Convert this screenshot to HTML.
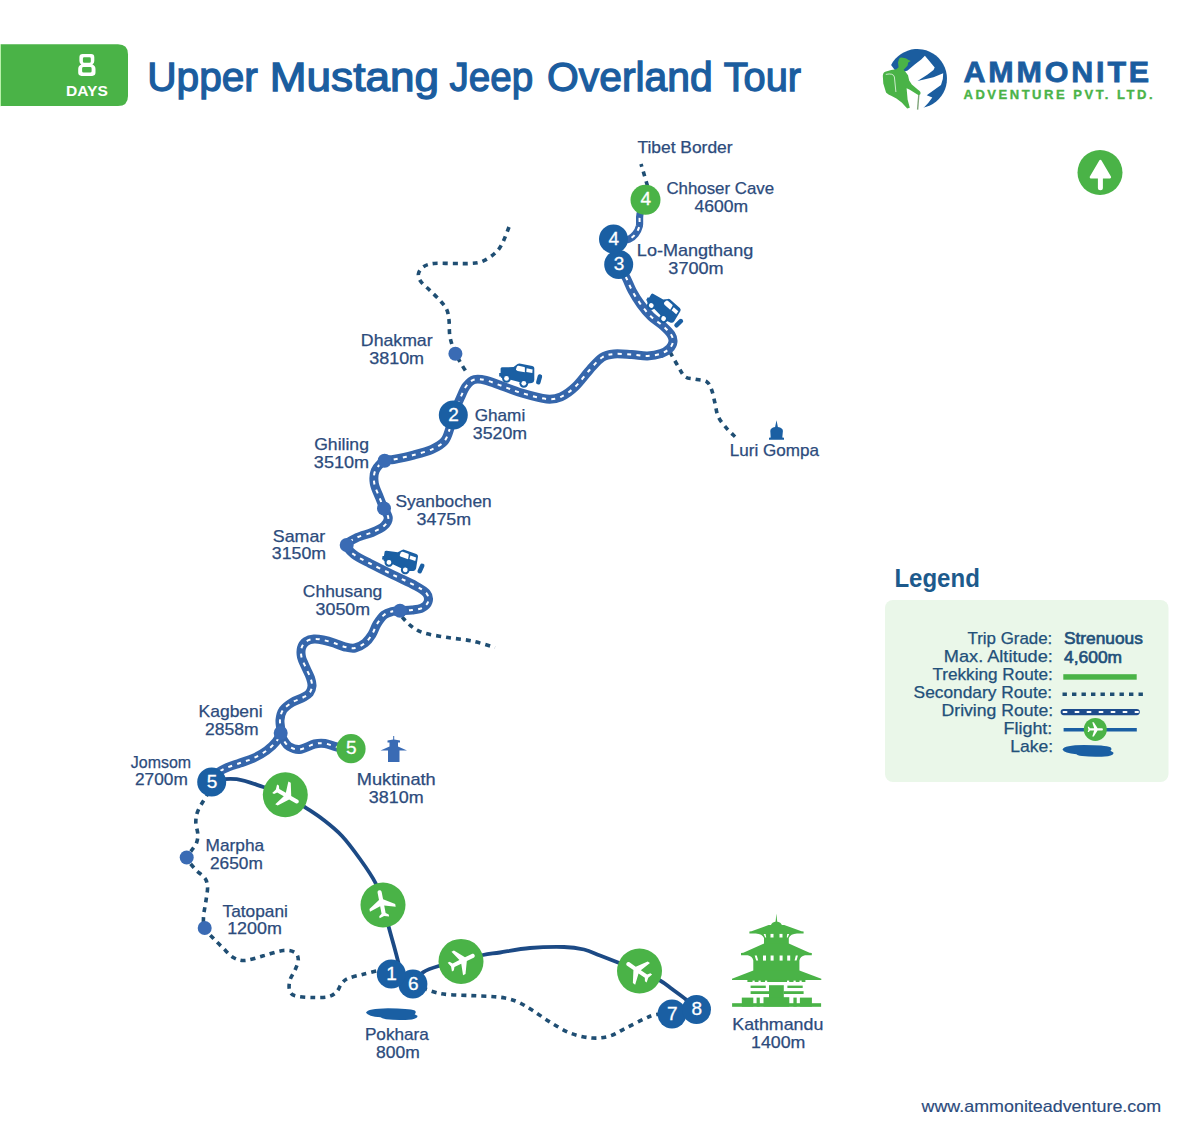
<!DOCTYPE html>
<html><head><meta charset="utf-8"><title>Upper Mustang Jeep Overland Tour</title>
<style>
html,body{margin:0;padding:0;background:#fff;}
body{width:1200px;height:1139px;overflow:hidden;}
svg{display:block;}
text{font-family:"Liberation Sans",sans-serif;}
.lb{font-size:15px;fill:#2c4b7c;stroke:#2c4b7c;stroke-width:0.2px;}
.num{font-size:19px;fill:#fff;stroke:#fff;stroke-width:0.3px;}
.hb{font-weight:bold;fill:#fff;}
.lg{font-size:15.5px;fill:#1b5d9f;stroke:#1b5d9f;stroke-width:0.2px;}
.lgb{font-size:15.5px;font-weight:bold;fill:#1b5d9f;}
.sec{fill:none;stroke:#1f4e73;stroke-width:3.6;stroke-dasharray:5 5;}
.fl{fill:none;stroke:#1c4a85;stroke-width:3.8;}
.road{fill:none;stroke:#3566ab;stroke-width:9;stroke-linecap:round;stroke-linejoin:round;}
.roadd{fill:none;stroke:#fff;stroke-width:2;stroke-dasharray:4 5.3;}
</style></head>
<body>
<svg width="1200" height="1139" viewBox="0 0 1200 1139">
<rect width="1200" height="1139" fill="#fff"/>
<rect x="0" y="44.2" width="1.2" height="62" fill="#b8f2aa"/>
<path d="M1,44.2 H118 Q128,44.2 128,54.2 V96 Q128,106 118,106 H1 Z" fill="#4ab347"/>
<path fill="#fff" fill-rule="evenodd" d="M82.6,53.9 H91.1 Q94.3,53.9 94.3,57.2 V61 Q94.3,63.4 92.4,64.5 Q95.5,65.6 95.5,68.9 V72.6 Q95.5,75.9 92.2,75.9 H81.5 Q78.2,75.9 78.2,72.6 V68.9 Q78.2,65.6 81.3,64.5 Q79.4,63.4 79.4,61 V57.2 Q79.4,53.9 82.6,53.9 Z M84.2,57.3 H89.5 Q90.8,57.3 90.8,58.6 V61.5 Q90.8,62.8 89.5,62.8 H84.2 Q82.9,62.8 82.9,61.5 V58.6 Q82.9,57.3 84.2,57.3 Z M83.5,67.1 H90.2 Q91.6,67.1 91.6,68.5 V71.2 Q91.6,72.6 90.2,72.6 H83.5 Q82.1,72.6 82.1,71.2 V68.5 Q82.1,67.1 83.5,67.1 Z"/>
<path d="M891.1,65 A29.6,29.6 0 1 1 922.8,107.7 Z" fill="#1b5d9f"/>
<path d="M895,75 L907.6,70.5 L915,64.3 L921.2,59.4 L924.9,55.7 L928.5,60 L934.7,67.4 L933.5,69.9 L927.3,74.8 L917.5,81 L933.5,77.3 L943.2,73.2 A25.8,25.8 0 0 1 941,85 L926.7,95.2 L932.3,97.6 Q929,103 922.5,108.9 L915,112 L880,112 L880,75 Z" fill="#fff"/>
<path d="M899.1,58.8 Q900,57.6 901.5,57.6 L905.5,58.3 Q907.5,58.8 908,59.8 L910.8,61 L908.2,62.4 L907.6,65.4 L905.6,67.8 L903.6,69.8 L905.6,72 L908,75.2 L909.2,80.5 L911.8,84.6 L918,89.8 Q921.2,91.8 920.4,94 Q919.6,95.6 917.4,94.4 L909.8,89.8 L906.6,88.2 L907.6,99.4 L909.8,107.8 L907.2,108.6 L901.7,102.6 L896.4,98.4 L891.2,95.8 Q886,93.5 885.8,91.8 L883.3,83.6 L882.8,75.8 Q883.2,72.3 885.2,71.8 L891.2,69.9 L896.4,69.3 L898.6,67.2 L898,62.5 Z" fill="#4ab347"/>
<path d="M885.8,74.4 Q893.4,72.8 894.4,77 L895.9,92" fill="none" stroke="#fff" stroke-width="0.9" opacity="0.8"/>
<path d="M918.8,95 L917.6,109.6" stroke="#7fa57a" stroke-width="1.4"/>
<text x="963.5" y="81.5" style="font:bold 30px 'Liberation Sans',sans-serif;fill:#1b5d9f;stroke:#1b5d9f;stroke-width:0.8px;letter-spacing:2.8px" textLength="188.5" lengthAdjust="spacingAndGlyphs">AMMONITE</text>
<text x="963.5" y="99" style="font:bold 13px 'Liberation Sans',sans-serif;fill:#4ab347;stroke:#4ab347;stroke-width:0.35px;letter-spacing:3px" textLength="192" lengthAdjust="spacing">ADVENTURE PVT. LTD.</text>
<circle cx="1100" cy="172.5" r="22.5" fill="#4ab347"/>
<path d="M1100.4,161.2 L1109.8,177.2 L1091,177.2 Z" fill="#fff" stroke="#fff" stroke-width="2.6" stroke-linejoin="round"/>
<rect x="1097.9" y="176" width="5" height="14.2" rx="2.5" fill="#fff"/>
<path d="M647.5,186.0 C646.9,184.0 645.1,177.7 644.0,174.0 C642.9,170.3 641.5,165.7 641.0,164.0" class="sec"/>
<path d="M509.0,227.0 C507.8,230.0 504.0,240.5 501.5,245.0 C499.0,249.5 497.2,251.2 494.0,254.0 C490.8,256.8 486.0,259.9 482.0,261.5 C478.0,263.1 474.5,263.2 470.0,263.5 C465.5,263.8 461.0,263.5 455.0,263.5 C449.0,263.5 439.2,263.0 434.0,263.5 C428.8,264.0 426.1,265.0 423.5,266.7 C420.9,268.4 419.0,271.1 418.5,273.5 C418.0,275.9 418.7,278.2 420.5,281.0 C422.3,283.8 426.2,286.8 429.5,290.0 C432.8,293.2 437.1,297.2 440.0,300.5 C442.9,303.8 445.2,306.2 446.7,309.5 C448.2,312.8 448.5,315.8 449.0,320.0 C449.5,324.2 449.1,330.5 449.7,335.0 C450.3,339.5 451.8,343.9 452.7,347.0 C453.6,350.1 454.0,350.9 455.4,353.7 C456.8,356.4 459.1,360.3 461.0,363.5 C462.9,366.7 466.0,371.4 467.0,373.0" class="sec"/>
<path d="M670.0,352.0 C671.4,354.4 675.8,362.6 678.3,366.7 C680.8,370.8 682.2,374.6 685.0,376.7 C687.8,378.8 691.4,378.4 695.0,379.2 C698.6,380.0 703.9,379.9 706.7,381.7 C709.5,383.5 710.3,386.4 711.7,390.0 C713.1,393.6 713.9,398.9 715.0,403.3 C716.1,407.8 716.3,412.5 718.3,416.7 C720.2,420.9 723.9,425.0 726.7,428.3 C729.5,431.6 733.6,435.3 735.0,436.7" class="sec"/>
<path d="M402.0,617.0 C403.5,618.5 407.3,623.3 411.0,626.0 C414.7,628.7 417.8,631.1 424.0,633.0 C430.2,634.9 440.0,636.2 448.0,637.5 C456.0,638.8 464.2,639.3 472.0,641.0 C479.8,642.7 491.2,646.4 495.0,647.5" class="sec"/>
<path d="M209.0,792.0 C207.2,795.0 200.5,805.0 198.3,810.0 C196.1,815.0 195.9,818.0 195.8,822.0 C195.7,826.0 197.7,830.5 197.8,834.0 C197.9,837.5 197.6,840.2 196.5,843.0 C195.4,845.8 193.1,848.1 191.5,850.5 C189.9,852.9 186.1,854.4 186.7,857.5 C187.3,860.6 191.9,865.5 195.0,869.0 C198.1,872.5 202.9,875.3 205.0,878.3 C207.1,881.3 207.2,883.9 207.5,887.0 C207.8,890.1 206.9,893.7 206.5,897.0 C206.1,900.3 205.5,903.4 205.0,906.7 C204.5,910.0 203.6,913.2 203.5,916.7 C203.4,920.2 203.1,924.4 204.7,928.0 C206.3,931.6 210.2,934.9 213.3,938.3 C216.4,941.7 220.0,945.1 223.3,948.3 C226.6,951.5 229.7,955.5 233.3,957.5 C236.9,959.5 240.0,960.8 245.0,960.5 C250.0,960.2 256.9,957.5 263.3,955.8 C269.7,954.1 278.0,951.0 283.3,950.5 C288.6,950.0 292.5,950.9 295.0,952.5 C297.5,954.1 298.3,957.1 298.3,960.0 C298.3,962.9 296.4,966.7 295.0,970.0 C293.6,973.3 290.9,976.7 290.0,980.0 C289.1,983.3 288.7,987.4 289.5,990.0 C290.3,992.6 291.0,994.5 295.0,995.8 C299.0,997.0 307.8,997.4 313.3,997.5 C318.9,997.6 324.4,997.7 328.3,996.7 C332.2,995.7 334.5,993.9 336.7,991.7 C338.9,989.5 339.8,985.5 341.7,983.3 C343.6,981.1 344.7,979.8 348.3,978.3 C351.9,976.8 358.0,975.6 363.3,974.2 C368.6,972.8 377.2,970.7 380.0,970.0" class="sec"/>
<path d="M413.0,984.0 C417.5,985.6 430.5,991.6 440.0,993.5 C449.5,995.4 461.7,995.0 470.0,995.5 C478.3,996.0 484.2,996.0 490.0,996.4 C495.8,996.8 500.3,997.1 505.0,998.0 C509.7,998.9 513.5,1000.0 518.0,1002.0 C522.5,1004.0 526.7,1006.7 532.0,1010.0 C537.3,1013.3 543.7,1018.2 550.0,1022.0 C556.3,1025.8 563.0,1030.3 570.0,1033.0 C577.0,1035.7 585.3,1037.5 592.0,1038.0 C598.7,1038.5 604.3,1037.7 610.0,1036.0 C615.7,1034.3 620.3,1030.8 626.0,1028.0 C631.7,1025.2 639.0,1021.2 644.0,1019.0 C649.0,1016.8 651.3,1015.3 656.0,1014.5 C660.7,1013.7 669.3,1014.1 672.0,1014.0" class="sec"/>
<path d="M211.7,780.0 C215.9,779.9 228.1,778.0 236.7,779.2 C245.3,780.4 255.2,784.4 263.3,787.0 C271.4,789.6 277.8,791.5 285.0,795.0 C292.2,798.5 300.4,804.2 306.7,808.3 C313.0,812.4 317.1,814.9 323.0,819.5 C328.9,824.1 335.8,829.4 342.0,836.0 C348.2,842.6 354.4,851.2 360.0,859.0 C365.6,866.8 371.7,875.3 375.5,883.0 C379.3,890.7 380.8,897.5 383.0,905.0 C385.2,912.5 387.2,921.2 389.0,928.0 C390.8,934.8 392.3,939.8 394.0,946.0 C395.7,952.2 398.2,961.8 399.0,965.0" class="fl"/>
<path d="M412.9,984.0 C414.6,982.1 418.7,975.4 423.0,972.4 C427.3,969.4 432.5,967.8 438.8,966.0 C445.1,964.2 453.6,963.2 461.0,961.4 C468.4,959.6 476.5,956.5 483.0,955.0 C489.5,953.5 492.2,953.7 500.0,952.5 C507.8,951.3 519.3,948.9 530.0,948.0 C540.7,947.1 555.0,946.8 564.0,947.0 C573.0,947.2 578.0,948.1 584.0,949.5 C590.0,950.9 594.3,953.3 600.0,955.5 C605.7,957.7 611.4,959.9 618.0,962.5 C624.6,965.1 632.5,968.0 639.5,971.0 C646.5,974.0 654.6,977.5 660.0,980.5 C665.4,983.5 667.7,985.8 672.0,989.0 C676.3,992.2 681.9,996.1 686.0,999.5 C690.1,1002.9 694.8,1007.8 696.5,1009.5" class="fl"/>
<path d="M212.0,776.0 C214.2,774.8 220.3,770.7 225.0,768.5 C229.7,766.3 235.3,764.7 240.0,763.0 C244.7,761.3 248.9,760.4 253.3,758.3 C257.8,756.2 262.9,753.3 266.7,750.5 C270.5,747.7 273.7,744.6 276.0,741.7 C278.3,738.8 280.0,736.6 280.7,733.0 C281.4,729.4 279.6,723.8 280.0,720.0 C280.4,716.2 281.0,712.9 283.0,710.0 C285.0,707.1 288.7,704.6 292.0,702.5 C295.3,700.4 300.1,699.1 303.0,697.5 C305.9,695.9 308.0,694.9 309.5,693.0 C311.0,691.1 311.8,688.5 312.0,686.0 C312.2,683.5 311.5,681.0 310.5,678.0 C309.5,675.0 307.5,671.5 306.0,668.0 C304.5,664.5 302.2,660.3 301.5,657.0 C300.8,653.7 300.8,650.6 301.5,648.0 C302.2,645.4 303.9,643.0 306.0,641.5 C308.1,640.0 311.2,639.2 314.0,639.0 C316.8,638.8 319.7,639.3 323.0,640.0 C326.3,640.7 330.3,641.8 334.0,643.0 C337.7,644.2 341.5,646.2 345.0,647.0 C348.5,647.8 351.7,648.7 355.0,648.0 C358.3,647.3 362.2,645.2 365.0,643.0 C367.8,640.8 370.0,637.7 372.0,634.5 C374.0,631.3 375.0,627.2 377.0,624.0 C379.0,620.8 381.5,617.1 384.0,615.0 C386.5,612.9 389.3,612.2 392.0,611.5 C394.7,610.8 396.7,611.0 400.0,610.8 C403.3,610.5 408.3,610.5 412.0,610.0 C415.7,609.5 419.3,609.3 422.0,608.0 C424.7,606.7 427.2,604.5 428.0,602.0 C428.8,599.5 428.7,596.0 426.5,593.3 C424.3,590.5 420.5,588.5 415.0,585.5 C409.5,582.5 400.8,578.7 393.3,575.0 C385.8,571.3 376.6,566.9 370.0,563.5 C363.4,560.1 357.9,557.6 354.0,554.5 C350.1,551.4 346.2,547.8 346.7,545.0 C347.2,542.2 352.8,539.6 357.0,537.5 C361.2,535.4 367.5,534.4 372.0,532.5 C376.5,530.6 381.3,528.4 384.0,526.0 C386.7,523.6 388.3,520.9 388.3,518.0 C388.3,515.1 385.5,511.9 384.0,508.5 C382.5,505.1 381.1,501.7 379.5,497.5 C377.9,493.3 375.0,488.0 374.3,483.5 C373.6,479.0 373.6,474.3 375.3,470.5 C377.0,466.7 381.6,462.6 384.6,460.8 C387.6,459.0 388.9,460.4 393.5,459.5 C398.1,458.6 406.1,457.0 412.5,455.3 C418.9,453.6 426.7,451.7 432.0,449.3 C437.3,446.9 441.5,444.6 444.5,441.0 C447.5,437.4 448.5,432.3 450.0,428.0 C451.5,423.7 451.6,420.0 453.3,415.0 C455.0,410.0 458.1,402.8 460.3,398.0 C462.5,393.2 463.9,389.1 466.3,386.0 C468.7,382.9 471.2,380.4 474.5,379.5 C477.8,378.6 481.4,379.2 486.0,380.3 C490.6,381.4 496.1,383.9 502.0,386.0 C507.9,388.1 514.2,390.8 521.7,393.0 C529.2,395.2 540.2,398.4 546.7,399.0 C553.2,399.6 556.2,398.9 561.0,396.8 C565.8,394.7 570.7,391.1 575.5,386.5 C580.3,381.9 585.6,374.3 590.0,369.5 C594.4,364.7 598.0,360.1 602.0,357.5 C606.0,354.9 609.1,354.5 614.0,354.0 C618.9,353.5 626.0,354.3 631.6,354.6 C637.2,354.9 642.5,356.2 647.4,356.0 C652.3,355.8 657.3,354.9 661.0,353.6 C664.7,352.4 667.5,350.5 669.5,348.5 C671.5,346.5 672.8,343.8 673.0,341.5 C673.2,339.2 672.7,337.1 671.0,334.5 C669.3,331.9 666.3,329.0 663.0,326.0 C659.7,323.0 654.7,320.1 651.0,316.5 C647.3,312.9 643.9,308.8 640.8,304.5 C637.7,300.2 634.6,295.2 632.2,290.8 C629.8,286.4 628.5,282.4 626.3,278.0 C624.0,273.6 620.0,266.8 618.7,264.5" class="road"/>
<path d="M613.5,239.0 C614.9,239.1 619.4,239.8 622.0,239.8 C624.6,239.9 626.8,240.3 629.0,239.3 C631.2,238.3 633.8,236.2 635.5,234.0 C637.2,231.8 638.6,229.3 639.4,226.0 C640.1,222.7 639.0,218.4 640.0,214.0 C641.0,209.6 644.6,202.2 645.5,199.8" class="road" style="stroke-width:7.2"/>
<path d="M280.7,733.0 C281.2,734.2 282.1,737.8 283.5,740.0 C284.9,742.2 286.3,744.9 289.0,746.5 C291.7,748.1 295.2,749.9 299.5,749.5 C303.8,749.1 310.2,745.0 314.5,744.0 C318.8,743.0 321.2,743.0 325.0,743.5 C328.8,744.0 332.7,746.1 337.0,747.0 C341.3,747.9 348.7,748.4 351.0,748.7" class="road"/>
<path d="M212.0,776.0 C214.2,774.8 220.3,770.7 225.0,768.5 C229.7,766.3 235.3,764.7 240.0,763.0 C244.7,761.3 248.9,760.4 253.3,758.3 C257.8,756.2 262.9,753.3 266.7,750.5 C270.5,747.7 273.7,744.6 276.0,741.7 C278.3,738.8 280.0,736.6 280.7,733.0 C281.4,729.4 279.6,723.8 280.0,720.0 C280.4,716.2 281.0,712.9 283.0,710.0 C285.0,707.1 288.7,704.6 292.0,702.5 C295.3,700.4 300.1,699.1 303.0,697.5 C305.9,695.9 308.0,694.9 309.5,693.0 C311.0,691.1 311.8,688.5 312.0,686.0 C312.2,683.5 311.5,681.0 310.5,678.0 C309.5,675.0 307.5,671.5 306.0,668.0 C304.5,664.5 302.2,660.3 301.5,657.0 C300.8,653.7 300.8,650.6 301.5,648.0 C302.2,645.4 303.9,643.0 306.0,641.5 C308.1,640.0 311.2,639.2 314.0,639.0 C316.8,638.8 319.7,639.3 323.0,640.0 C326.3,640.7 330.3,641.8 334.0,643.0 C337.7,644.2 341.5,646.2 345.0,647.0 C348.5,647.8 351.7,648.7 355.0,648.0 C358.3,647.3 362.2,645.2 365.0,643.0 C367.8,640.8 370.0,637.7 372.0,634.5 C374.0,631.3 375.0,627.2 377.0,624.0 C379.0,620.8 381.5,617.1 384.0,615.0 C386.5,612.9 389.3,612.2 392.0,611.5 C394.7,610.8 396.7,611.0 400.0,610.8 C403.3,610.5 408.3,610.5 412.0,610.0 C415.7,609.5 419.3,609.3 422.0,608.0 C424.7,606.7 427.2,604.5 428.0,602.0 C428.8,599.5 428.7,596.0 426.5,593.3 C424.3,590.5 420.5,588.5 415.0,585.5 C409.5,582.5 400.8,578.7 393.3,575.0 C385.8,571.3 376.6,566.9 370.0,563.5 C363.4,560.1 357.9,557.6 354.0,554.5 C350.1,551.4 346.2,547.8 346.7,545.0 C347.2,542.2 352.8,539.6 357.0,537.5 C361.2,535.4 367.5,534.4 372.0,532.5 C376.5,530.6 381.3,528.4 384.0,526.0 C386.7,523.6 388.3,520.9 388.3,518.0 C388.3,515.1 385.5,511.9 384.0,508.5 C382.5,505.1 381.1,501.7 379.5,497.5 C377.9,493.3 375.0,488.0 374.3,483.5 C373.6,479.0 373.6,474.3 375.3,470.5 C377.0,466.7 381.6,462.6 384.6,460.8 C387.6,459.0 388.9,460.4 393.5,459.5 C398.1,458.6 406.1,457.0 412.5,455.3 C418.9,453.6 426.7,451.7 432.0,449.3 C437.3,446.9 441.5,444.6 444.5,441.0 C447.5,437.4 448.5,432.3 450.0,428.0 C451.5,423.7 451.6,420.0 453.3,415.0 C455.0,410.0 458.1,402.8 460.3,398.0 C462.5,393.2 463.9,389.1 466.3,386.0 C468.7,382.9 471.2,380.4 474.5,379.5 C477.8,378.6 481.4,379.2 486.0,380.3 C490.6,381.4 496.1,383.9 502.0,386.0 C507.9,388.1 514.2,390.8 521.7,393.0 C529.2,395.2 540.2,398.4 546.7,399.0 C553.2,399.6 556.2,398.9 561.0,396.8 C565.8,394.7 570.7,391.1 575.5,386.5 C580.3,381.9 585.6,374.3 590.0,369.5 C594.4,364.7 598.0,360.1 602.0,357.5 C606.0,354.9 609.1,354.5 614.0,354.0 C618.9,353.5 626.0,354.3 631.6,354.6 C637.2,354.9 642.5,356.2 647.4,356.0 C652.3,355.8 657.3,354.9 661.0,353.6 C664.7,352.4 667.5,350.5 669.5,348.5 C671.5,346.5 672.8,343.8 673.0,341.5 C673.2,339.2 672.7,337.1 671.0,334.5 C669.3,331.9 666.3,329.0 663.0,326.0 C659.7,323.0 654.7,320.1 651.0,316.5 C647.3,312.9 643.9,308.8 640.8,304.5 C637.7,300.2 634.6,295.2 632.2,290.8 C629.8,286.4 628.5,282.4 626.3,278.0 C624.0,273.6 620.0,266.8 618.7,264.5" class="roadd"/>
<path d="M613.5,239.0 C614.9,239.1 619.4,239.8 622.0,239.8 C624.6,239.9 626.8,240.3 629.0,239.3 C631.2,238.3 633.8,236.2 635.5,234.0 C637.2,231.8 638.6,229.3 639.4,226.0 C640.1,222.7 639.0,218.4 640.0,214.0 C641.0,209.6 644.6,202.2 645.5,199.8" class="roadd"/>
<path d="M280.7,733.0 C281.2,734.2 282.1,737.8 283.5,740.0 C284.9,742.2 286.3,744.9 289.0,746.5 C291.7,748.1 295.2,749.9 299.5,749.5 C303.8,749.1 310.2,745.0 314.5,744.0 C318.8,743.0 321.2,743.0 325.0,743.5 C328.8,744.0 332.7,746.1 337.0,747.0 C341.3,747.9 348.7,748.4 351.0,748.7" class="roadd"/>
<circle cx="455.4" cy="353.7" r="7" fill="#3a6bb4"/>
<circle cx="384.6" cy="460.8" r="7" fill="#3a6bb4"/>
<circle cx="384.0" cy="508.5" r="7" fill="#3a6bb4"/>
<circle cx="346.7" cy="545.0" r="7" fill="#3a6bb4"/>
<circle cx="400.0" cy="610.8" r="7" fill="#3a6bb4"/>
<circle cx="280.7" cy="733.0" r="7" fill="#3a6bb4"/>
<circle cx="186.7" cy="857.5" r="7" fill="#3a6bb4"/>
<circle cx="204.7" cy="928.0" r="7" fill="#3a6bb4"/>
<g transform="translate(665.2 310.5) rotate(31.0) scale(1.00)" fill="#1a5fa3"><path d="M-20.4,-7.1 Q-20,-8.2 -18.6,-8.2 L-7.4,-8.4 L-3.5,-11.4 Q-2.6,-12.2 -1.4,-12.1 L11.3,-9.6 Q13.2,-9.2 13.3,-7.4 L13.3,4.5 Q13.1,7.2 11,7.6 L6.9,8.1 L-0.9,6.8 L-10.4,4.2 L-19.2,2.4 Q-20.4,2.1 -20.4,0.9 L-21.8,1 L-21.8,-2.4 L-20.4,-2.6 Z"/><path d="M-5,-6.2 L-4.2,-8.8 Q-3.6,-9.9 -2.4,-9.7 L3.2,-8.6 Q3.9,-8.4 3.9,-7.6 L3.9,-3.2 L-3.3,-4.5 Q-4.9,-4.9 -5,-6.2 Z" fill="#fff"/><path d="M5.6,-7.3 L11.6,-6.1 L11.3,-2.5 L5.3,-3.6 Z" fill="#fff"/><circle cx="-14.5" cy="2.9" r="4.4"/><circle cx="-14.5" cy="2.9" r="2.4" fill="#fff"/><circle cx="2.8" cy="7.8" r="4.4"/><circle cx="2.8" cy="7.8" r="2.4" fill="#fff"/><rect x="-2.25" y="-5.2" width="4.5" height="10.4" rx="2" transform="translate(18.1 3.9) rotate(15)"/></g>
<g transform="translate(521.0 375.5) rotate(0.0) scale(1.00)" fill="#1a5fa3"><path d="M-20.4,-7.1 Q-20,-8.2 -18.6,-8.2 L-7.4,-8.4 L-3.5,-11.4 Q-2.6,-12.2 -1.4,-12.1 L11.3,-9.6 Q13.2,-9.2 13.3,-7.4 L13.3,4.5 Q13.1,7.2 11,7.6 L6.9,8.1 L-0.9,6.8 L-10.4,4.2 L-19.2,2.4 Q-20.4,2.1 -20.4,0.9 L-21.8,1 L-21.8,-2.4 L-20.4,-2.6 Z"/><path d="M-5,-6.2 L-4.2,-8.8 Q-3.6,-9.9 -2.4,-9.7 L3.2,-8.6 Q3.9,-8.4 3.9,-7.6 L3.9,-3.2 L-3.3,-4.5 Q-4.9,-4.9 -5,-6.2 Z" fill="#fff"/><path d="M5.6,-7.3 L11.6,-6.1 L11.3,-2.5 L5.3,-3.6 Z" fill="#fff"/><circle cx="-14.5" cy="2.9" r="4.4"/><circle cx="-14.5" cy="2.9" r="2.4" fill="#fff"/><circle cx="2.8" cy="7.8" r="4.4"/><circle cx="2.8" cy="7.8" r="2.4" fill="#fff"/><rect x="-2.25" y="-5.2" width="4.5" height="10.4" rx="2" transform="translate(18.1 3.9) rotate(15)"/></g>
<g transform="translate(403.7 561.8) rotate(9.0) scale(1.00)" fill="#1a5fa3"><path d="M-20.4,-7.1 Q-20,-8.2 -18.6,-8.2 L-7.4,-8.4 L-3.5,-11.4 Q-2.6,-12.2 -1.4,-12.1 L11.3,-9.6 Q13.2,-9.2 13.3,-7.4 L13.3,4.5 Q13.1,7.2 11,7.6 L6.9,8.1 L-0.9,6.8 L-10.4,4.2 L-19.2,2.4 Q-20.4,2.1 -20.4,0.9 L-21.8,1 L-21.8,-2.4 L-20.4,-2.6 Z"/><path d="M-5,-6.2 L-4.2,-8.8 Q-3.6,-9.9 -2.4,-9.7 L3.2,-8.6 Q3.9,-8.4 3.9,-7.6 L3.9,-3.2 L-3.3,-4.5 Q-4.9,-4.9 -5,-6.2 Z" fill="#fff"/><path d="M5.6,-7.3 L11.6,-6.1 L11.3,-2.5 L5.3,-3.6 Z" fill="#fff"/><circle cx="-14.5" cy="2.9" r="4.4"/><circle cx="-14.5" cy="2.9" r="2.4" fill="#fff"/><circle cx="2.8" cy="7.8" r="4.4"/><circle cx="2.8" cy="7.8" r="2.4" fill="#fff"/><rect x="-2.25" y="-5.2" width="4.5" height="10.4" rx="2" transform="translate(18.1 3.9) rotate(15)"/></g>
<circle cx="285.3" cy="794.8" r="22.5" fill="#4ab347"/><path d="M21 16v-2l-8-5V3.5c0-.83-.67-1.5-1.5-1.5S10 2.67 10 3.5V9l-8 5v2l8-2.5V19l-2 1.5V22l3.5-1 3.5 1v-1.5L13 19v-5.5l8 2.5z" fill="#fff" transform="translate(286.6 795.6) rotate(120.0) scale(1.38) translate(-11.5 -12)"/>
<circle cx="383.0" cy="905.0" r="22.5" fill="#4ab347"/><path d="M21 16v-2l-8-5V3.5c0-.83-.67-1.5-1.5-1.5S10 2.67 10 3.5V9l-8 5v2l8-2.5V19l-2 1.5V22l3.5-1 3.5 1v-1.5L13 19v-5.5l8 2.5z" fill="#fff" transform="translate(381.8 903.8) rotate(-10.7) scale(1.38) translate(-11.5 -12)"/>
<circle cx="461.0" cy="961.4" r="22.5" fill="#4ab347"/><path d="M21 16v-2l-8-5V3.5c0-.83-.67-1.5-1.5-1.5S10 2.67 10 3.5V9l-8 5v2l8-2.5V19l-2 1.5V22l3.5-1 3.5 1v-1.5L13 19v-5.5l8 2.5z" fill="#fff" transform="translate(462.2 961.0) rotate(63.8) scale(1.38) translate(-11.5 -12)"/>
<circle cx="639.5" cy="971.0" r="22.5" fill="#4ab347"/><path d="M21 16v-2l-8-5V3.5c0-.83-.67-1.5-1.5-1.5S10 2.67 10 3.5V9l-8 5v2l8-2.5V19l-2 1.5V22l3.5-1 3.5 1v-1.5L13 19v-5.5l8 2.5z" fill="#fff" transform="translate(638.0 970.7) rotate(-55.6) scale(1.38) translate(-11.5 -12)"/>
<circle cx="645.5" cy="199.8" r="15.0" fill="#4ab347"/><text x="645.8" y="205.4" class="num" text-anchor="middle">4</text>
<circle cx="618.7" cy="264.5" r="14.5" fill="#1a5fa3"/><text x="619.0" y="270.1" class="num" text-anchor="middle">3</text>
<circle cx="613.5" cy="239.0" r="14.5" fill="#1a5fa3"/><text x="613.8" y="244.6" class="num" text-anchor="middle">4</text>
<circle cx="453.3" cy="415.0" r="14.5" fill="#1a5fa3"/><text x="453.6" y="420.6" class="num" text-anchor="middle">2</text>
<circle cx="211.7" cy="782.0" r="14.5" fill="#1a5fa3"/><text x="212.0" y="787.6" class="num" text-anchor="middle">5</text>
<circle cx="351.0" cy="748.7" r="14.6" fill="#4ab347"/><text x="351.3" y="754.3" class="num" text-anchor="middle">5</text>
<circle cx="412.9" cy="984.0" r="14.5" fill="#1a5fa3"/><text x="413.2" y="989.6" class="num" text-anchor="middle">6</text>
<circle cx="391.3" cy="974.0" r="14.5" fill="#1a5fa3"/><text x="391.6" y="979.6" class="num" text-anchor="middle">1</text>
<circle cx="672.0" cy="1014.0" r="14.5" fill="#1a5fa3"/><text x="672.3" y="1019.6" class="num" text-anchor="middle">7</text>
<circle cx="696.5" cy="1009.5" r="14.5" fill="#1a5fa3"/><text x="696.8" y="1015.1" class="num" text-anchor="middle">8</text>
<path d="M366,1012.7 Q367.5,1008.6 388,1008.3 Q409,1008.4 414.8,1010.6 Q416.8,1012.4 414.6,1014.2 L417.4,1015.8 Q418.2,1018.4 412,1019.4 Q398,1020.6 386,1019.2 Q381.5,1018.4 380.5,1017.3 Q368,1016.2 366,1012.7 Z" fill="#1a5fa3"/>
<path d="M393.2,736 L394.2,736 L394.2,739.5 L400,740.5 L400,742.5 L398,742.5 L398,746.5 L407,750.5 L399.5,750.5 L399.5,762 L388,762 L388,750.5 L380.5,750.5 L389.5,746.5 L389.5,742.5 L387.5,742.5 L387.5,740.5 L393.2,739.5 Z" fill="#3a6bb4"/>
<path d="M776.5,420.3 L777.9,427 Q782.9,427.8 782.9,431 L782.3,437.6 L784,437.8 L784,439.8 L769,439.8 L769,437.8 L770.7,437.6 L770.3,431 Q770.3,427.8 775.1,427 Z" fill="#1a5fa3"/>
<g fill="#4ab347">
<path d="M775.5,922.5 L776.4,913.5 L777.3,922.5 Z"/>
<path d="M770.8,925.4 Q771.6,922.4 776.4,921.6 Q781.2,922.4 782,925.4 Z"/>
<path d="M768.6,925 L784.2,925 L801.5,931.2 L803.6,931.4 L803.6,933.6 L797,933.6 Q790.5,934 788.8,938 L788.8,944.2 L764,944.2 L764,938 Q762.3,934 755.8,933.6 L749.4,933.6 L749.4,931.4 L751.5,931.2 Z"/>
<path d="M764,943.6 L788.8,943.6 L809.5,952.8 L811.8,953 L811.8,955.3 L805,955.3 Q800.3,956.2 799.4,960.5 L799.4,971.4 L753.3,971.4 L753.3,960.5 Q752.4,956.2 747.7,955.3 L741,955.3 L741,953 L743.3,952.8 Z"/>
<path d="M753.3,970.4 L799.4,970.4 L821.3,978.8 L821.3,980 L732,980 L732,978.8 Z"/>
<rect x="747.4" y="979.5" width="58" height="2.5"/>
<rect x="750.6" y="985.6" width="15.2" height="2.4"/><rect x="750.6" y="991.2" width="19" height="2.8"/>
<rect x="787.4" y="985.6" width="15.3" height="2.4"/><rect x="783.5" y="991.2" width="20.1" height="2.8"/>
<rect x="769" y="985.2" width="14.8" height="13"/><rect x="763.5" y="997.2" width="25.8" height="9.4"/>
<rect x="741.8" y="997.6" width="11.5" height="9"/><rect x="756.6" y="997.6" width="3.2" height="9"/>
<rect x="793.4" y="997.6" width="3.3" height="9"/><rect x="799.9" y="997.6" width="12" height="9"/>
<rect x="732.1" y="1003.2" width="89" height="3.6"/>
</g>
<g fill="#fff">
<path d="M763.6,933.9 L765.6,933.9 L766.2,937.4 L765.2,937.4 Z"/><rect x="770.5" y="933.9" width="3" height="3.6"/><rect x="779.5" y="933.9" width="3" height="3.6"/><path d="M787.2,933.9 L789.2,933.9 L787.8,937.4 L786.8,937.4 Z"/>
<path d="M754.7,955.5 L756.8,955.5 L758.2,960.6 L756.2,960.6 Z"/>
<rect x="763.0" y="955.5" width="3" height="5.1"/>
<rect x="770.6" y="955.5" width="3" height="5.1"/>
<rect x="779.6" y="955.5" width="3" height="5.1"/>
<rect x="787.2" y="955.5" width="3" height="5.1"/>
<path d="M795.8,955.5 L797.9,955.5 L796.6,960.6 L794.6,960.6 Z"/>
<rect x="752.5" y="980.6" width="2.2" height="1.5"/>
<rect x="758.5" y="980.6" width="2.2" height="1.5"/>
<rect x="765.0" y="980.6" width="2.2" height="1.5"/>
<rect x="787.0" y="980.6" width="2.2" height="1.5"/>
<rect x="793.5" y="980.6" width="2.2" height="1.5"/>
<rect x="799.5" y="980.6" width="2.2" height="1.5"/>
</g>
<rect x="885" y="600" width="283.5" height="182" rx="8" fill="#eaf7e9"/>
<rect x="1063.3" y="674.2" width="73.4" height="5.5" fill="#4ab347"/>
<path d="M1062.5,694.2 H1143.3" stroke="#1f4e73" stroke-width="3.4" stroke-dasharray="4.4 5.1"/>
<rect x="1060.6" y="709" width="79.2" height="6.2" rx="3.1" fill="#1d4b8c"/>
<path d="M1063.5,712.1 H1138" stroke="#fff" stroke-width="2" stroke-dasharray="3 9" stroke-linecap="round"/>
<path d="M1063.6,729.8 H1136.8" stroke="#1a5fa3" stroke-width="3.4"/>
<circle cx="1095.3" cy="729.4" r="11.5" fill="#4ab347"/><path d="M21 16v-2l-8-5V3.5c0-.83-.67-1.5-1.5-1.5S10 2.67 10 3.5V9l-8 5v2l8-2.5V19l-2 1.5V22l3.5-1 3.5 1v-1.5L13 19v-5.5l8 2.5z" fill="#fff" transform="translate(1095.3 729.4) rotate(90.0) scale(0.76) translate(-11.5 -12)"/>
<path d="M1062.5,749.5 Q1064,745.2 1084,745 Q1105,745.1 1110.5,747.2 Q1112.5,749 1110.4,750.8 L1113.4,752.5 Q1114.2,755.2 1108,756.2 Q1094,757.3 1082,756 Q1077,755.2 1076.5,754.2 Q1064,753.2 1062.5,749.5 Z" fill="#1a5fa3"/>
<text x="637.50" y="152.50" style="font-size:15.7px;font-family:'Liberation Sans',sans-serif;fill:#2c4b7c;stroke:#2c4b7c;stroke-width:0.25px" textLength="95.02" lengthAdjust="spacingAndGlyphs">Tibet Border</text>
<text x="666.43" y="194.00" style="font-size:15.7px;font-family:'Liberation Sans',sans-serif;fill:#2c4b7c;stroke:#2c4b7c;stroke-width:0.25px" textLength="107.68" lengthAdjust="spacingAndGlyphs">Chhoser Cave</text>
<text x="694.50" y="212.00" style="font-size:15.7px;font-family:'Liberation Sans',sans-serif;fill:#2c4b7c;stroke:#2c4b7c;stroke-width:0.25px" textLength="53.58" lengthAdjust="spacingAndGlyphs">4600m</text>
<text x="636.85" y="255.80" style="font-size:15.7px;font-family:'Liberation Sans',sans-serif;fill:#2c4b7c;stroke:#2c4b7c;stroke-width:0.25px" textLength="116.37" lengthAdjust="spacingAndGlyphs">Lo-Mangthang</text>
<text x="668.35" y="274.00" style="font-size:15.7px;font-family:'Liberation Sans',sans-serif;fill:#2c4b7c;stroke:#2c4b7c;stroke-width:0.25px" textLength="55.27" lengthAdjust="spacingAndGlyphs">3700m</text>
<text x="360.87" y="346.00" style="font-size:15.7px;font-family:'Liberation Sans',sans-serif;fill:#2c4b7c;stroke:#2c4b7c;stroke-width:0.25px" textLength="71.72" lengthAdjust="spacingAndGlyphs">Dhakmar</text>
<text x="369.15" y="364.30" style="font-size:15.7px;font-family:'Liberation Sans',sans-serif;fill:#2c4b7c;stroke:#2c4b7c;stroke-width:0.25px" textLength="54.96" lengthAdjust="spacingAndGlyphs">3810m</text>
<text x="474.71" y="420.50" style="font-size:15.7px;font-family:'Liberation Sans',sans-serif;fill:#2c4b7c;stroke:#2c4b7c;stroke-width:0.25px" textLength="50.53" lengthAdjust="spacingAndGlyphs">Ghami</text>
<text x="472.87" y="438.50" style="font-size:15.7px;font-family:'Liberation Sans',sans-serif;fill:#2c4b7c;stroke:#2c4b7c;stroke-width:0.25px" textLength="54.23" lengthAdjust="spacingAndGlyphs">3520m</text>
<text x="314.18" y="449.80" style="font-size:15.7px;font-family:'Liberation Sans',sans-serif;fill:#2c4b7c;stroke:#2c4b7c;stroke-width:0.25px" textLength="54.77" lengthAdjust="spacingAndGlyphs">Ghiling</text>
<text x="313.85" y="468.00" style="font-size:15.7px;font-family:'Liberation Sans',sans-serif;fill:#2c4b7c;stroke:#2c4b7c;stroke-width:0.25px" textLength="55.27" lengthAdjust="spacingAndGlyphs">3510m</text>
<text x="395.40" y="507.00" style="font-size:15.7px;font-family:'Liberation Sans',sans-serif;fill:#2c4b7c;stroke:#2c4b7c;stroke-width:0.25px" textLength="96.36" lengthAdjust="spacingAndGlyphs">Syanbochen</text>
<text x="416.56" y="525.00" style="font-size:15.7px;font-family:'Liberation Sans',sans-serif;fill:#2c4b7c;stroke:#2c4b7c;stroke-width:0.25px" textLength="54.54" lengthAdjust="spacingAndGlyphs">3475m</text>
<text x="272.87" y="541.70" style="font-size:15.7px;font-family:'Liberation Sans',sans-serif;fill:#2c4b7c;stroke:#2c4b7c;stroke-width:0.25px" textLength="52.38" lengthAdjust="spacingAndGlyphs">Samar</text>
<text x="271.87" y="559.20" style="font-size:15.7px;font-family:'Liberation Sans',sans-serif;fill:#2c4b7c;stroke:#2c4b7c;stroke-width:0.25px" textLength="54.23" lengthAdjust="spacingAndGlyphs">3150m</text>
<text x="302.89" y="596.70" style="font-size:15.7px;font-family:'Liberation Sans',sans-serif;fill:#2c4b7c;stroke:#2c4b7c;stroke-width:0.25px" textLength="79.40" lengthAdjust="spacingAndGlyphs">Chhusang</text>
<text x="315.56" y="615.00" style="font-size:15.7px;font-family:'Liberation Sans',sans-serif;fill:#2c4b7c;stroke:#2c4b7c;stroke-width:0.25px" textLength="54.54" lengthAdjust="spacingAndGlyphs">3050m</text>
<text x="198.59" y="717.20" style="font-size:15.7px;font-family:'Liberation Sans',sans-serif;fill:#2c4b7c;stroke:#2c4b7c;stroke-width:0.25px" textLength="64.06" lengthAdjust="spacingAndGlyphs">Kagbeni</text>
<text x="205.00" y="735.20" style="font-size:15.7px;font-family:'Liberation Sans',sans-serif;fill:#2c4b7c;stroke:#2c4b7c;stroke-width:0.25px" textLength="53.58" lengthAdjust="spacingAndGlyphs">2858m</text>
<text x="130.80" y="767.50" style="font-size:15.7px;font-family:'Liberation Sans',sans-serif;fill:#2c4b7c;stroke:#2c4b7c;stroke-width:0.25px" textLength="60.29" lengthAdjust="spacingAndGlyphs">Jomsom</text>
<text x="135.00" y="785.00" style="font-size:15.7px;font-family:'Liberation Sans',sans-serif;fill:#2c4b7c;stroke:#2c4b7c;stroke-width:0.25px" textLength="52.77" lengthAdjust="spacingAndGlyphs">2700m</text>
<text x="356.84" y="785.00" style="font-size:15.7px;font-family:'Liberation Sans',sans-serif;fill:#2c4b7c;stroke:#2c4b7c;stroke-width:0.25px" textLength="78.84" lengthAdjust="spacingAndGlyphs">Muktinath</text>
<text x="368.86" y="803.00" style="font-size:15.7px;font-family:'Liberation Sans',sans-serif;fill:#2c4b7c;stroke:#2c4b7c;stroke-width:0.25px" textLength="54.75" lengthAdjust="spacingAndGlyphs">3810m</text>
<text x="205.60" y="851.20" style="font-size:15.7px;font-family:'Liberation Sans',sans-serif;fill:#2c4b7c;stroke:#2c4b7c;stroke-width:0.25px" textLength="58.52" lengthAdjust="spacingAndGlyphs">Marpha</text>
<text x="210.00" y="869.20" style="font-size:15.7px;font-family:'Liberation Sans',sans-serif;fill:#2c4b7c;stroke:#2c4b7c;stroke-width:0.25px" textLength="52.77" lengthAdjust="spacingAndGlyphs">2650m</text>
<text x="222.50" y="916.50" style="font-size:15.7px;font-family:'Liberation Sans',sans-serif;fill:#2c4b7c;stroke:#2c4b7c;stroke-width:0.25px" textLength="65.34" lengthAdjust="spacingAndGlyphs">Tatopani</text>
<text x="227.16" y="934.30" style="font-size:15.7px;font-family:'Liberation Sans',sans-serif;fill:#2c4b7c;stroke:#2c4b7c;stroke-width:0.25px" textLength="54.75" lengthAdjust="spacingAndGlyphs">1200m</text>
<text x="364.91" y="1040.40" style="font-size:15.7px;font-family:'Liberation Sans',sans-serif;fill:#2c4b7c;stroke:#2c4b7c;stroke-width:0.25px" textLength="63.98" lengthAdjust="spacingAndGlyphs">Pokhara</text>
<text x="376.00" y="1058.20" style="font-size:15.7px;font-family:'Liberation Sans',sans-serif;fill:#2c4b7c;stroke:#2c4b7c;stroke-width:0.25px" textLength="43.68" lengthAdjust="spacingAndGlyphs">800m</text>
<text x="732.27" y="1029.50" style="font-size:15.7px;font-family:'Liberation Sans',sans-serif;fill:#2c4b7c;stroke:#2c4b7c;stroke-width:0.25px" textLength="91.02" lengthAdjust="spacingAndGlyphs">Kathmandu</text>
<text x="751.07" y="1047.80" style="font-size:15.7px;font-family:'Liberation Sans',sans-serif;fill:#2c4b7c;stroke:#2c4b7c;stroke-width:0.25px" textLength="54.33" lengthAdjust="spacingAndGlyphs">1400m</text>
<text x="729.71" y="455.80" style="font-size:15.7px;font-family:'Liberation Sans',sans-serif;fill:#2c4b7c;stroke:#2c4b7c;stroke-width:0.25px" textLength="89.25" lengthAdjust="spacingAndGlyphs">Luri Gompa</text>
<text x="894.38" y="586.90" style="font-size:25px;font-weight:bold;font-family:'Liberation Sans',sans-serif;fill:#1d5a8c" textLength="85.45" lengthAdjust="spacingAndGlyphs">Legend</text>
<text x="967.50" y="643.80" style="font-size:15.7px;font-family:'Liberation Sans',sans-serif;fill:#22507a;stroke:#22507a;stroke-width:0.25px" textLength="84.82" lengthAdjust="spacingAndGlyphs">Trip Grade:</text>
<text x="943.84" y="661.90" style="font-size:15.7px;font-family:'Liberation Sans',sans-serif;fill:#22507a;stroke:#22507a;stroke-width:0.25px" textLength="109.01" lengthAdjust="spacingAndGlyphs">Max. Altitude:</text>
<text x="932.50" y="680.00" style="font-size:15.7px;font-family:'Liberation Sans',sans-serif;fill:#22507a;stroke:#22507a;stroke-width:0.25px" textLength="120.26" lengthAdjust="spacingAndGlyphs">Trekking Route:</text>
<text x="913.60" y="698.00" style="font-size:15.7px;font-family:'Liberation Sans',sans-serif;fill:#22507a;stroke:#22507a;stroke-width:0.25px" textLength="138.54" lengthAdjust="spacingAndGlyphs">Secondary Route:</text>
<text x="941.58" y="716.00" style="font-size:15.7px;font-family:'Liberation Sans',sans-serif;fill:#22507a;stroke:#22507a;stroke-width:0.25px" textLength="111.50" lengthAdjust="spacingAndGlyphs">Driving Route:</text>
<text x="1003.56" y="734.00" style="font-size:15.7px;font-family:'Liberation Sans',sans-serif;fill:#22507a;stroke:#22507a;stroke-width:0.25px" textLength="48.78" lengthAdjust="spacingAndGlyphs">Flight:</text>
<text x="1010.18" y="752.00" style="font-size:15.7px;font-family:'Liberation Sans',sans-serif;fill:#22507a;stroke:#22507a;stroke-width:0.25px" textLength="42.87" lengthAdjust="spacingAndGlyphs">Lake:</text>
<text x="1064.00" y="643.80" style="font-size:15.7px;font-family:'Liberation Sans',sans-serif;fill:#22507a;stroke:#22507a;stroke-width:0.6px" textLength="78.77" lengthAdjust="spacingAndGlyphs">Strenuous</text>
<text x="1064.00" y="663.30" style="font-size:15.7px;font-family:'Liberation Sans',sans-serif;fill:#22507a;stroke:#22507a;stroke-width:0.6px" textLength="58.06" lengthAdjust="spacingAndGlyphs">4,600m</text>
<text x="921.50" y="1111.80" style="font-size:16.5px;font-family:'Liberation Sans',sans-serif;fill:#2c4b7c;stroke:#2c4b7c;stroke-width:0.15px" textLength="239.60" lengthAdjust="spacingAndGlyphs">www.ammoniteadventure.com</text>
<text x="147.19" y="91.00" style="font-size:40.5px;font-family:'Liberation Sans',sans-serif;fill:#1b5d9f;stroke:#1b5d9f;stroke-width:1.3px" textLength="110.72" lengthAdjust="spacingAndGlyphs">Upper</text>
<text x="269.83" y="91.00" style="font-size:40.5px;font-family:'Liberation Sans',sans-serif;fill:#1b5d9f;stroke:#1b5d9f;stroke-width:1.3px" textLength="169.13" lengthAdjust="spacingAndGlyphs">Mustang</text>
<text x="449.50" y="91.00" style="font-size:40.5px;font-family:'Liberation Sans',sans-serif;fill:#1b5d9f;stroke:#1b5d9f;stroke-width:1.3px" textLength="83.79" lengthAdjust="spacingAndGlyphs">Jeep</text>
<text x="546.99" y="91.00" style="font-size:40.5px;font-family:'Liberation Sans',sans-serif;fill:#1b5d9f;stroke:#1b5d9f;stroke-width:1.3px" textLength="165.76" lengthAdjust="spacingAndGlyphs">Overland</text>
<text x="723.70" y="91.00" style="font-size:40.5px;font-family:'Liberation Sans',sans-serif;fill:#1b5d9f;stroke:#1b5d9f;stroke-width:1.3px" textLength="77.40" lengthAdjust="spacingAndGlyphs">Tour</text>
<text x="65.96" y="96.00" style="font-size:15px;font-weight:bold;font-family:'Liberation Sans',sans-serif;fill:#fff" textLength="41.86" lengthAdjust="spacingAndGlyphs">DAYS</text>
</svg>
</body></html>
